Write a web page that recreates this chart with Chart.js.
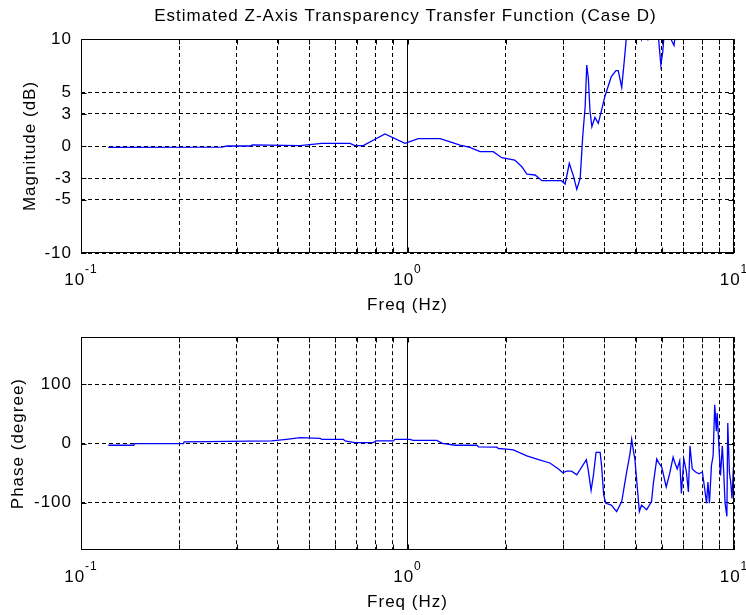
<!DOCTYPE html>
<html><head><meta charset="utf-8">
<script src="https://cdn.jsdelivr.net/npm/chart.js@4.4.1/dist/chart.umd.min.js"></script>
<style>
html,body{margin:0;padding:0;background:#fff;}
#wrap{position:relative;width:746px;height:615px;overflow:hidden;background:#fff;}
#c1{position:absolute;left:0;top:0;}
#c2{position:absolute;left:0;top:318px;}
</style></head><body>
<div id="wrap"><canvas id="c1" width="746" height="318"></canvas><canvas id="c2" width="746" height="297"></canvas></div>
<script>
const chartTitle = "Estimated Z-Axis Transparency Transfer Function (Case D)";
const xTitle = "Freq (Hz)";
const magTitle = "Magnitude (dB)";
const phaseTitle = "Phase (degree)";

const xTickValues = [0.1,0.2,0.3,0.4,0.5,0.6,0.7,0.8,0.9,1,2,3,4,5,6,7,8,9,10];
const xLabelDecades = [0.1, 1, 10];
const xLabelExponents = ["-1", "0", "1"];
const magTicks = [-10,-5,-3,0,3,5,10];
const phaseTicks = [-100,0,100];

const magFreq = [0.1212,0.27,0.28,0.329,0.335,0.469,0.546,0.667,0.69,0.732,0.853,0.982,1.079,1.258,1.366,1.448,1.553,1.668,1.83,1.944,2.13,2.24,2.32,2.46,2.58,2.96,3.04,3.13,3.22,3.30,3.38,3.44,3.50,3.54,3.58,3.62,3.67,3.75,3.84,3.93,4.02,4.21,4.35,4.42,4.53,4.61,4.69,4.80,4.95,5.10,5.21,5.30,5.45,5.55,5.75,5.88,5.97,6.05,6.15,6.30,6.43,6.55,6.70,7.0,7.5,8.0,8.6,9.2,9.96];
const magDb = [-0.12,-0.1,0.0,0.0,0.1,0.03,0.25,0.25,0.03,0.03,1.12,0.25,0.68,0.68,0.34,0.09,-0.12,-0.53,-0.53,-1.09,-1.31,-1.93,-2.62,-2.71,-3.24,-3.24,-3.55,-1.62,-2.77,-4.05,-3.02,0.87,3.67,7.57,6.33,3.36,1.80,2.68,2.12,3.36,4.61,6.48,7.04,7.04,5.48,7.88,10.4,11.5,12.0,11.0,9.95,10.8,9.95,10.6,11.2,9.9,7.57,8.8,11.5,11.0,9.9,9.4,11.8,13.5,12.5,14.5,13.0,15.5,14.0];

const phaseFreq = [0.1212,0.145,0.146,0.206,0.207,0.384,0.426,0.469,0.54,0.546,0.636,0.644,0.69,0.786,0.80,0.905,0.915,1.018,1.04,1.229,1.28,1.398,1.63,1.65,1.876,1.90,2.01,2.11,2.32,2.52,2.73,2.90,2.99,3.07,3.18,3.30,3.53,3.58,3.65,3.71,3.78,3.89,3.93,3.99,4.05,4.21,4.37,4.53,4.69,4.80,4.86,4.92,4.97,5.03,5.13,5.21,5.40,5.59,5.66,5.80,5.87,6.01,6.20,6.35,6.51,6.58,6.70,6.82,6.90,7.02,7.15,7.25,7.33,7.45,7.63,7.81,8.0,8.13,8.24,8.32,8.41,8.53,8.63,8.73,8.83,8.88,8.99,9.09,9.21,9.30,9.39,9.51,9.57,9.68,9.77,9.86,9.96];
const phaseDeg = [-2.8,-2.8,0,0,2.8,4.5,7.2,10,9,7.2,7.2,4.5,1.7,1.7,4.5,4.5,7.2,7.2,5.5,5.5,0.5,-2.8,-2.8,-5.5,-6,-8.3,-9.4,-10.6,-20.6,-27.2,-32.8,-42.8,-49.4,-46.7,-46.7,-52.8,-27.2,-45.6,-78.9,-53.9,-15,-15,-37.2,-87.2,-101,-104,-115,-98,-48.3,-17.8,7.2,-12.2,-26,-59.4,-115,-104,-112,-98,-68,-26,-31.7,-40,-73.3,-51,-23,-31.7,-43,-29,-84.5,-26,-48,-81.7,-3.9,-43,-48,-51,-48,-76,-101,-65,-101,-37,-20.6,65.5,21,51.7,-3.9,-53.9,-3.9,-48,-101,-123,35,-48,-65,-93,-40];

const FONT = "'Liberation Sans', Arial, sans-serif";

const decorPlugin = {
  id: 'decor',
  beforeDraw(chart) {
    chart.ctx.letterSpacing = '1px';
  },
  afterDraw(chart, args, opts) {
    const ctx = chart.ctx;
    const a = chart.chartArea;
    const xs = chart.scales.x, ys = chart.scales.y;
    const L = Math.round(a.left) + 0.5, R = Math.round(a.right) - 0.5;
    const T = Math.round(a.top) + 0.5, B = Math.round(a.bottom) - 0.5;
    ctx.save();
    ctx.setLineDash([]);
    ctx.strokeStyle = '#000';
    ctx.lineWidth = 1;
    ctx.strokeRect(L, T, R - L, B - T);
    ctx.beginPath();
    const tl = 5;
    xTickValues.forEach(v => {
      const x = Math.round(xs.getPixelForValue(v)) + 0.5;
      ctx.moveTo(x, B); ctx.lineTo(x, B - tl);
      ctx.moveTo(x, T); ctx.lineTo(x, T + tl);
    });
    opts.yTicks.forEach(v => {
      const y = Math.round(ys.getPixelForValue(v)) + 0.5;
      ctx.moveTo(L, y); ctx.lineTo(L + tl, y);
      ctx.moveTo(R, y); ctx.lineTo(R - tl, y);
    });
    ctx.stroke();
    ctx.fillStyle = '#000';
    ctx.letterSpacing = '1px';
    ctx.textBaseline = 'alphabetic';
    ctx.textAlign = 'left';
    xLabelDecades.forEach((v, i) => {
      const x = xs.getPixelForValue(v);
      ctx.font = '17px ' + FONT;
      const wb = ctx.measureText('10').width;
      ctx.font = '12px ' + FONT;
      const we = ctx.measureText(xLabelExponents[i]).width;
      const x0 = x - (wb + we) / 2;
      ctx.font = '17px ' + FONT;
      ctx.fillText('10', x0, a.bottom + 32);
      ctx.font = '12px ' + FONT;
      ctx.fillText(xLabelExponents[i], x0 + wb, a.bottom + 20);
    });
    if (opts.title) {
      ctx.font = '17px ' + FONT;
      ctx.textAlign = 'center';
      ctx.textBaseline = 'middle';
      ctx.fillText(opts.title, (a.left + a.right) / 2 - 2, 16);
    }
    ctx.restore();
  }
};

function makeChart(canvas, freqs, vals, yMin, yMax, yTicks, yTitle, yTitlePad, padTop, title) {
  const pts = freqs.map((f, i) => ({x: f, y: vals[i]}));
  return new Chart(canvas, {
    type: 'line',
    data: { datasets: [{
      data: pts, borderColor: '#0000ff', borderWidth: 1.3, pointRadius: 0,
      fill: false, tension: 0, clip: 0
    }]},
    options: {
      responsive: false, animation: false, devicePixelRatio: 1,
      layout: { padding: { left: 0, right: 12, top: padTop, bottom: 0 } },
      plugins: { legend: { display: false }, tooltip: { enabled: false },
        decor: { yTicks: yTicks, title: title } },
      scales: {
        x: {
          type: 'logarithmic', min: 0.1, max: 10,
          afterBuildTicks: s => { s.ticks = xTickValues.map(v => ({value: v})); },
          afterFit: s => { s.height = 65; },
          ticks: { display: false },
          grid: { color: '#000', lineWidth: 1, drawTicks: false },
          border: { display: false, dash: c => {
            const v = c.tick ? c.tick.value : 0;
            return (Math.abs(v - 1) < 1e-9) ? [] : [4, 3];
          } },
          title: { display: true, text: xTitle, color: '#000',
            font: { family: FONT, size: 17 }, padding: { top: 0, bottom: 2 } }
        },
        y: {
          type: 'linear', min: yMin, max: yMax,
          afterBuildTicks: s => { s.ticks = yTicks.map(v => ({value: v})); },
          afterFit: s => { s.width = 81; },
          ticks: { color: '#000', font: { family: FONT, size: 17 }, padding: 9,
            callback: v => String(v) },
          grid: { color: '#000', lineWidth: 1, drawTicks: false },
          border: { display: false, dash: [4, 3] },
          title: { display: true, text: yTitle, color: '#000',
            font: { family: FONT, size: 17 }, padding: { top: yTitlePad, bottom: 0 } }
        }
      }
    },
    plugins: [decorPlugin]
  });
}

makeChart(document.getElementById('c1'), magFreq, magDb, -10, 10, magTicks, magTitle, 20, 39, chartTitle);
makeChart(document.getElementById('c2'), phaseFreq, phaseDeg, -180, 180, phaseTicks, phaseTitle, 8, 16, null);
</script>
</body></html>
